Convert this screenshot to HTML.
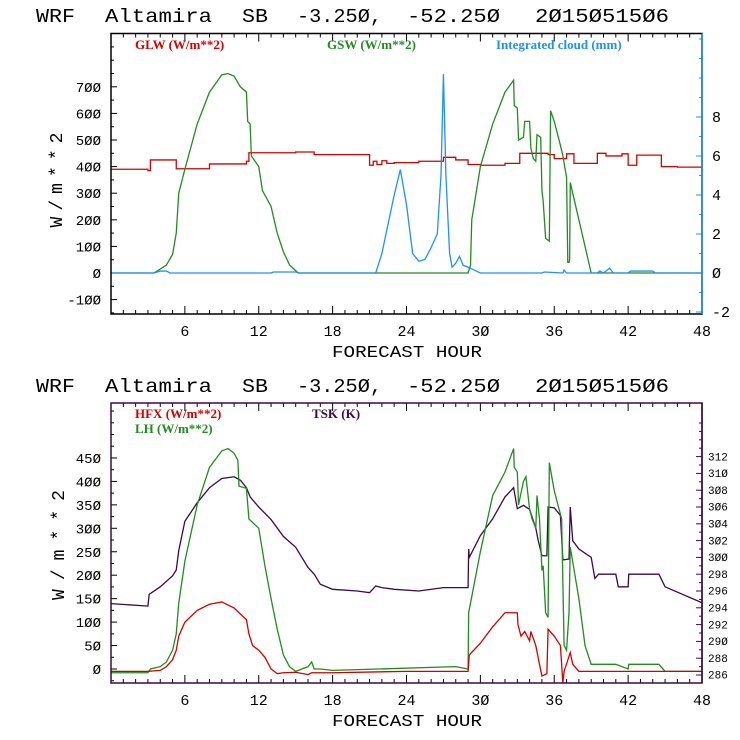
<!DOCTYPE html>
<html><head><meta charset="utf-8"><style>
html,body{margin:0;padding:0;background:#fff;}
svg{display:block;}
text{font-family:"Liberation Mono",monospace;}
.leg{font-family:"Liberation Serif",serif;font-weight:bold;font-size:13px;}
</style></head><body>
<svg id="c" width="740" height="740" viewBox="0 0 740 740" xmlns="http://www.w3.org/2000/svg"></svg>
<script>
// ---------- data ----------
const glwHours=[0,3,3.2,5.3,8,11,11.2,15,16.5,21,21.3,21.6,22,22.4,23,25,27,28,29,30,32,33.2,35.5,36,37,37.6,38,39.5,40.2,41.5,42,42.7,44.7,46,48];
const glwVals=[390,385,425,392,410,420,452,455,445,405,420,408,422,412,415,420,435,425,408,405,412,450,445,430,448,412,412,450,440,448,405,443,400,398,392];
const gswHours=[0,3.5,4.5,5,5.3,5.5,6,7,8,9,9.5,10,10.5,11,11.1,11.3,11.4,12,12.3,13,13.5,14,14.5,15.2,29,29.2,29.3,30,31,32,32.7,32.75,33,33.1,33.5,33.6,34,34.1,34.3,34.5,34.6,34.9,35,35.1,35.3,35.6,35.7,36,36.5,36.7,37,37.1,37.2,37.25,37.3,38,38.5,39,48];
const gswVals=[0,0,30,70,150,300,390,560,680,745,750,740,700,680,570,560,440,400,310,250,150,80,30,0,0,30,200,400,560,680,725,630,620,500,510,570,570,470,430,420,520,510,310,270,130,120,610,570,480,440,360,40,40,50,340,200,100,0,0];
const cldHours=[0,3.5,4,4.5,4.8,13,13.2,15,15.3,21.5,22,22.5,23,23.5,24,24.5,25,25.5,26,26.5,26.8,27,27.2,27.5,27.7,28,28.3,28.6,29,29.5,30,35,35.2,36.7,36.8,37,39.5,39.7,40,40.5,40.8,42,42.2,44,44.2,48];
const cldVals=[0,0,0.1,0.1,0,0,0.05,0.05,0,0,1,2.5,4,5.3,3.5,1,0.6,0.7,1.3,2,5,10.2,5,1,0.3,0.5,0.85,0.4,0.3,0.15,0,0,0.05,0,0.15,0,0,0.1,0,0.25,0,0,0.1,0.1,0,0];
const hfxHours=[0,3,4,4.5,5,5.3,5.5,6,7,8,9,10,11,11.2,11.5,12,12.5,13,13.5,14,15,16,16.3,17,18,24,29,29.1,30,31,32,33,33.05,33.3,33.6,34,34.1,34.5,34.8,35,35.4,35.5,36,36.5,36.7,36.8,37.3,37.5,38,39,48];
const hfxVals=[-5,-5,-3,5,20,40,70,100,125,138,143,130,105,75,50,40,25,0,-10,-8,-7,-12,-8,-8,-8,-5,-5,30,55,90,120,120,95,70,80,60,80,50,10,-15,-10,85,70,50,-30,-5,35,10,-5,-5,-5];
const lhHours=[0,3,3.2,4,4.5,5,5.3,5.5,6,7,8,9,9.5,10,10.3,10.4,11,11.2,12,12.5,13,13.5,14,14.5,15,16,16.3,16.5,17,18,28,29,29.05,30,31,32,32.7,32.75,33,33.1,33.5,33.7,34,34.2,34.5,34.6,34.8,35,35.1,35.3,35.5,35.6,36,36.6,36.8,37,37.2,37.3,38,38.5,39,40,41,42,42.05,44.5,45,48];
const lhVals=[-8,-8,0,5,15,40,75,140,230,350,430,465,470,460,445,390,385,320,300,220,150,85,30,5,-5,5,15,0,0,-3,5,0,120,250,370,420,470,430,420,350,400,410,340,320,300,370,320,210,220,120,110,440,380,320,50,40,120,260,150,50,10,10,10,0,10,10,-5,-5];
const tskHours=[0,3,3.1,4,5,5.3,5.5,6,7,8,9,10,10.5,11,11.3,12,13,14,15,16,16.5,17,18,20,21,21.5,22,23,25,27,29,29.05,29.1,30,31,32,32.7,33,33.5,34,34.5,34.7,35,35.4,35.5,36,36.5,36.7,37.2,37.3,37.5,38,39,39.3,39.6,40,41,41.2,42,42.05,44.5,45,48];
const tskVals=[294.5,294.2,295.6,296.5,297.8,298.5,300.8,304.3,306.5,308.3,309.4,309.6,309.2,308.3,307.2,306,304.5,302.5,301.2,298.8,298,296.8,296.2,296,295.8,296.6,296.4,296.2,296,296.4,296.4,301,300,302.6,304.6,307.2,308.3,305.8,306.2,305.7,303.5,302,300.2,300.2,306,305.9,305,299.7,299.8,306,302,301,300,297.5,298,298,298,296.5,296.5,298,298,296.5,294.6];
const xTicks=[6,12,18,24,30,36,42,48];
const topLeftTicks=[-100,0,100,200,300,400,500,600,700];
const topRightTicks=[-2,0,2,4,6,8];
const botLeftTicks=[0,50,100,150,200,250,300,350,400,450];
const botRightTicks=[286,288,290,292,294,296,298,300,302,304,306,308,310,312];

// ---------- drawing ----------
const S=document.getElementById('c');
const NS='http://www.w3.org/2000/svg';
function mk(tag,attrs,parent){const e=document.createElementNS(NS,tag);for(const k in attrs)e.setAttribute(k,attrs[k]);(parent||S).appendChild(e);return e;}
const X0=111,X1=702;
const xs=h=>X0+(X1-X0)*h/48;
function fmt(v){return String(v).replace(/0/g,'Ø');}
const titleWords=[['WRF',36,39],['Altamira',105,107],['SB',242,26],['-3.25Ø,',297,85],['-52.25Ø',407,93],['2Ø15Ø515Ø6',535,134]];

function panel(cfg){
  const g=mk('g',{});
  
  
  titleWords.forEach(w=>{
    const t=mk('text',{x:w[1],y:cfg.titleY,'font-size':'19','textLength':w[2],'lengthAdjust':'spacingAndGlyphs',fill:'#000'},g);
    t.textContent=w[0];
    
    
  });
  const T=cfg.top,B=cfg.bot;
  const yl=v=>cfg.y0-(v)*cfg.ly;
  const yr=v=>cfg.r0-(v-cfg.rBase)*cfg.ry;
  for(let h=1;h<48;h++){const x=xs(h);const L=(h%6==0)?8:4;
    mk('line',{x1:x,x2:x,y1:B,y2:B-L,stroke:'#000','stroke-width':1},g);
    mk('line',{x1:x,x2:x,y1:T,y2:T+L,stroke:'#000','stroke-width':1},g);}
  xTicks.forEach(h=>{const t=mk('text',{x:xs(h),y:B+22,'font-size':'15','text-anchor':'middle',fill:'#000'},g);t.textContent=fmt(h);
    
    });
  const xt=mk('text',{x:407,y:B+43,'font-size':'17','text-anchor':'middle',fill:'#000',textLength:150,lengthAdjust:'spacingAndGlyphs'},g);xt.textContent='FORECAST HOUR';
  
  
  for(let v=cfg.lMin;v<=cfg.lMax;v+=cfg.lMinor){const y=yl(v);if(y<T||y>B)continue;
    const major=cfg.leftTicks.includes(v);mk('line',{x1:X0,x2:X0+(major?6:3),y1:y,y2:y,stroke:'#000'},g);}
  cfg.leftTicks.forEach(v=>{const t=mk('text',{x:101,y:yl(v)+5,'font-size':'14','text-anchor':'end',fill:'#000'},g);t.textContent=fmt(v);
    
    });
  const yt=mk('text',{x:0,y:0,'font-size':'18','text-anchor':'middle',fill:'#000',textLength:cfg.ytLen,lengthAdjust:'spacing',transform:`translate(${cfg.ytX},${cfg.ytY}) rotate(-90)`},g);yt.textContent='W/m**2';
  
  
  for(let v=cfg.rMin;v<=cfg.rMax;v+=cfg.rMinor){const y=yr(v);if(y<T||y>B)continue;
    const major=cfg.rightTicks.includes(v);mk('line',{x1:X1,x2:X1-(major?6:3),y1:y,y2:y,stroke:cfg.rColor},g);}
  cfg.rightTicks.forEach(v=>{const t=mk('text',{x:cfg.rLabX,y:yr(v)+cfg.rFs/3,'font-size':cfg.rFs,'text-anchor':'start',fill:'#000'},g);t.textContent=fmt(v);
    
    });
  cfg.series.forEach(s=>{
    let pts=[];
    for(let i=0;i<s.h.length;i++){
      const yv=s.right?yr(s.v[i]):yl(s.v[i]);
      if(s.step&&i>0){pts.push(xs(s.h[i])+','+(s.right?yr(s.v[i-1]):yl(s.v[i-1])));}
      pts.push(xs(s.h[i])+','+yv);
    }
    const p=mk('polyline',{points:pts.join(' '),fill:'none',stroke:s.color,'stroke-width':1.3},g);
    
    
  });
  mk('rect',{x:X0,y:T,width:X1-X0,height:B-T,fill:'none',stroke:cfg.frame,'stroke-width':1.5},g);
  mk('line',{x1:X1,x2:X1,y1:T,y2:B,stroke:cfg.rColor,'stroke-width':1.5},g);
  cfg.legend.forEach(l=>{const t=mk('text',{x:l.x,y:l.y,class:'leg',fill:l.c},g);t.textContent=l.t;
    
    });
}

panel({name:'radiation-panel',titleY:22,top:33.5,bot:314,y0:273,ly:0.266,lMin:-150,lMax:850,lMinor:50,leftTicks:topLeftTicks,
  r0:273,rBase:0,ry:19.5,rMin:-2,rMax:12,rMinor:1,rightTicks:topRightTicks,rColor:'#1e90ff',rLabX:712,rFs:15,frame:'#000',ytX:62,ytY:180,ytLen:95,
  series:[
    {name:'glw-line',h:glwHours,v:glwVals,color:'#d40000',step:true},
    {name:'gsw-line',h:gswHours,v:gswVals,color:'#228b22'},
    {name:'cloud-line',h:cldHours,v:cldVals,color:'#1e90ff',right:true}],
  legend:[{t:'GLW (W/m**2)',x:135,y:49,c:'#d40000',n:'legend-glw'},{t:'GSW (W/m**2)',x:327,y:49,c:'#228b22',n:'legend-gsw'},{t:'Integrated cloud (mm)',x:496,y:49,c:'#1e90ff',n:'legend-cloud'}]});

panel({name:'flux-panel',titleY:392,top:403,bot:683,y0:669,ly:0.469,lMin:-25,lMax:575,lMinor:25,leftTicks:botLeftTicks,
  r0:675,rBase:286,ry:8.4,rMin:285,rMax:316,rMinor:1,rightTicks:botRightTicks,rColor:'#3c0a46',rLabX:708,rFs:11,frame:'#3c0a46',ytX:64,ytY:545,ytLen:110,
  series:[
    {name:'tsk-line',h:tskHours,v:tskVals,color:'#3c0a46',right:true},
    {name:'lh-line',h:lhHours,v:lhVals,color:'#228b22'},
    {name:'hfx-line',h:hfxHours,v:hfxVals,color:'#d40000'}],
  legend:[{t:'HFX (W/m**2)',x:135,y:418,c:'#d40000',n:'legend-hfx'},{t:'LH  (W/m**2)',x:135,y:433,c:'#228b22',n:'legend-lh'},{t:'TSK (K)',x:312,y:418,c:'#3c0a46',n:'legend-tsk'}]});
</script>
</body></html>
